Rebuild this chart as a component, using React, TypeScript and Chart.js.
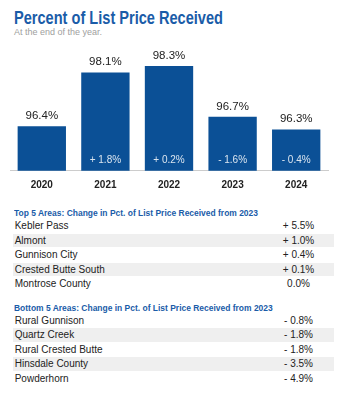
import React, { useEffect, useLayoutEffect, useRef } from "react";
import { Chart, registerables } from "chart.js";

Chart.register(...registerables);

const titleText = "Percent of List Price Received";
const subtitleText = "At the end of the year.";
const years = ["2020", "2021", "2022", "2023", "2024"];
const values = [96.4, 98.1, 98.3, 96.7, 96.3];
const changes = ["", "+ 1.8%", "+ 0.2%", "- 1.6%", "- 0.4%"];

const topHeader = "Top 5 Areas: Change in Pct. of List Price Received from 2023";
const topAreas = ["Kebler Pass", "Almont", "Gunnison City", "Crested Butte South", "Montrose County"];
const topChanges = ["+ 5.5%", "+ 1.0%", "+ 0.4%", "+ 0.1%", "0.0%"];

const bottomHeader = "Bottom 5 Areas: Change in Pct. of List Price Received from 2023";
const bottomAreas = ["Rural Gunnison", "Quartz Creek", "Rural Crested Butte", "Hinsdale County", "Powderhorn"];
const bottomChanges = ["- 0.8%", "- 1.8%", "- 1.8%", "- 3.5%", "- 4.9%"];

const BLUE = "#1a5ca8";
const BAR = "#0b5096";
const SANS = '"Liberation Sans", Arial, Helvetica, sans-serif';
const NARROW = '"Liberation Sans Narrow", "Liberation Sans", Arial, sans-serif';

function FitText({ text, width, style }: { text: string; width: number; style: React.CSSProperties }) {
  const ref = useRef<HTMLSpanElement>(null);
  useLayoutEffect(() => {
    const el = ref.current;
    if (!el) return;
    el.style.transform = "none";
    const w = el.getBoundingClientRect().width;
    if (w > 0) el.style.transform = `scaleX(${width / w})`;
  }, [text, width]);
  return (
    <span
      ref={ref}
      style={{ display: "inline-block", whiteSpace: "nowrap", transformOrigin: "0 0", ...style }}
    >
      {text}
    </span>
  );
}

const labelPlugin = {
  id: "barLabels",
  afterDatasetsDraw(chart: any) {
    const ctx = chart.ctx;
    const meta = chart.getDatasetMeta(0);
    const bottom = chart.chartArea.bottom;
    meta.data.forEach((bar: any, i: number) => {
      ctx.save();
      ctx.textAlign = "center";
      ctx.textBaseline = "alphabetic";
      ctx.font = `11.5px ${SANS}`;
      ctx.fillStyle = "#222";
      ctx.fillText(values[i].toFixed(1) + "%", bar.x, bar.y - 7);
      if (changes[i]) {
        ctx.font = `10px ${SANS}`;
        ctx.fillStyle = "rgba(255,255,255,0.85)";
        ctx.fillText(changes[i], bar.x, bottom - 7.4);
      }
      ctx.restore();
    });
  },
};

function AreaTable({
  header,
  headerWidth,
  headerTop,
  rowsTop,
  names,
  vals,
}: {
  header: string;
  headerWidth: number;
  headerTop: number;
  rowsTop: number;
  names: string[];
  vals: string[];
}) {
  return (
    <>
      <div style={{ position: "absolute", left: 14, top: headerTop, lineHeight: "9px" }}>
        <FitText
          text={header}
          width={headerWidth}
          style={{ font: `bold 9px ${NARROW}`, color: BLUE, lineHeight: "9px" }}
        />
      </div>
      {names.map((n, i) => (
        <div
          key={n}
          style={{
            position: "absolute",
            left: 12.7,
            width: 321.3,
            top: rowsTop + i * 14.5,
            height: 13.5,
            background: i % 2 === 1 ? "#efefef" : "transparent",
            font: `10px ${SANS}`,
            lineHeight: "13.5px",
            color: "#222",
          }}
        >
          <span style={{ position: "absolute", left: 2 }}>{n}</span>
          <span style={{ position: "absolute", left: 245.8, width: 80, textAlign: "center" }}>{vals[i]}</span>
        </div>
      ))}
    </>
  );
}

export default function App() {
  const canvasRef = useRef<HTMLCanvasElement>(null);

  useEffect(() => {
    document.body.style.margin = "0";
    const canvas = canvasRef.current;
    if (!canvas) return;
    const chart = new Chart(canvas, {
      type: "bar",
      data: {
        labels: years,
        datasets: [
          {
            data: values,
            backgroundColor: BAR,
            borderWidth: 0,
            categoryPercentage: 1,
            barPercentage: 0.76,
          },
        ],
      },
      options: {
        animation: false,
        responsive: false,
        devicePixelRatio: 1,
        layout: { padding: { left: 10, right: 25, top: 3.9, bottom: 8.3 } },
        plugins: { legend: { display: false }, tooltip: { enabled: false } },
        scales: {
          y: { display: false, min: 95, max: 99 },
          x: {
            grid: { display: false, drawTicks: false },
            border: { display: true, color: "#cccccc", width: 1 },
            ticks: {
              color: "#222",
              padding: 9,
              font: { family: SANS, size: 10, weight: "bold" },
            },
            afterFit: (scale: any) => {
              scale.height = 21;
            },
          },
        },
      },
      plugins: [labelPlugin],
    });
    return () => chart.destroy();
  }, []);

  return (
    <div style={{ position: "absolute", left: 0, top: 0, width: 353, height: 400, background: "#fff" }}>
      <div style={{ position: "absolute", left: 14, top: 9.7, lineHeight: "17.5px" }}>
        <FitText
          text={titleText}
          width={209}
          style={{ font: `bold 17.5px ${NARROW}`, color: BLUE, lineHeight: "17.5px" }}
        />
      </div>
      <div
        style={{
          position: "absolute",
          left: 14,
          top: 28.4,
          font: `9px ${SANS}`,
          lineHeight: "9px",
          color: "#a0a0a0",
          whiteSpace: "nowrap",
        }}
      >
        {subtitleText}
      </div>
      <canvas
        ref={canvasRef}
        width={353}
        height={160}
        style={{ position: "absolute", left: 0, top: 40, width: 353, height: 160 }}
      />
      <AreaTable
        header={topHeader}
        headerWidth={244}
        headerTop={206.1}
        rowsTop={219.3}
        names={topAreas}
        vals={topChanges}
      />
      <AreaTable
        header={bottomHeader}
        headerWidth={258.7}
        headerTop={301.4}
        rowsTop={313.8}
        names={bottomAreas}
        vals={bottomChanges}
      />
    </div>
  );
}
